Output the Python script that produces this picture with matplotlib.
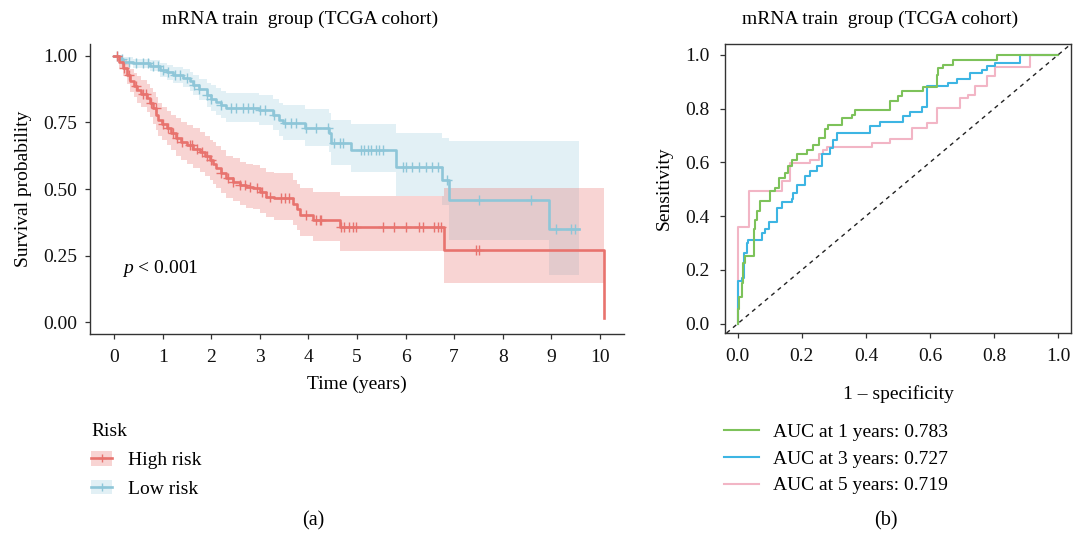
import numpy as np
import matplotlib
matplotlib.use("Agg")
import matplotlib.pyplot as plt
from matplotlib.lines import Line2D
from matplotlib.patches import Patch
from matplotlib.ticker import FormatStrFormatter

plt.rcParams['font.family'] = 'serif'
plt.rcParams['font.serif'] = ['Liberation Serif', 'DejaVu Serif']
plt.rcParams['mathtext.fontset'] = 'custom'
plt.rcParams['mathtext.rm'] = 'Liberation Serif'
plt.rcParams['mathtext.it'] = 'Liberation Serif:italic'

# KAPLAN-MEIER DATA -------------------

# high risk group: event times (years), survival and 95% CI
t_high = [0, 0.1, 0.19, 0.27, 0.32, 0.4, 0.46, 0.55, 0.67, 0.74, 0.8, 0.86, 0.9,
          0.98, 1.08, 1.17, 1.28, 1.38, 1.49, 1.62, 1.76, 1.86, 1.97, 2.04, 2.1,
          2.2, 2.31, 2.45, 2.58, 2.72, 2.86, 3.0, 3.13, 3.3, 3.68, 3.76, 3.82,
          4.09, 4.64, 6.79, 10.08]
s_high = [1.0, 0.978, 0.955, 0.93, 0.905, 0.888, 0.872, 0.858, 0.841, 0.822,
          0.803, 0.78, 0.76, 0.745, 0.728, 0.71, 0.691, 0.678, 0.665, 0.652,
          0.64, 0.625, 0.609, 0.595, 0.578, 0.56, 0.54, 0.528, 0.515, 0.508,
          0.503, 0.488, 0.471, 0.465, 0.445, 0.425, 0.402, 0.383, 0.358, 0.271,
          0.015]
hi_high = [1.0, 1.0, 0.99, 0.97, 0.95, 0.935, 0.925, 0.91, 0.895, 0.88, 0.865,
           0.845, 0.825, 0.81, 0.795, 0.78, 0.765, 0.75, 0.74, 0.73, 0.715,
           0.70, 0.685, 0.675, 0.66, 0.645, 0.625, 0.615, 0.60, 0.595, 0.59,
           0.58, 0.565, 0.56, 0.535, 0.52, 0.505, 0.49, 0.474, 0.505, 0.505]
lo_high = [1.0, 0.955, 0.925, 0.895, 0.865, 0.845, 0.825, 0.81, 0.79, 0.77,
           0.745, 0.72, 0.70, 0.685, 0.665, 0.645, 0.625, 0.61, 0.595, 0.58,
           0.565, 0.55, 0.535, 0.52, 0.505, 0.485, 0.465, 0.455, 0.44, 0.43,
           0.425, 0.41, 0.395, 0.385, 0.365, 0.345, 0.325, 0.305, 0.268, 0.147,
           0.147]
cens_high = [0.05, 0.2, 0.3, 0.45, 0.6, 0.65, 0.75, 0.85, 1.0, 1.1, 1.2, 1.3,
             1.4, 1.55, 1.6, 1.7, 1.8, 1.9, 2.0, 2.2, 2.35, 2.45, 2.6, 2.7, 2.8,
             2.95, 3.05, 3.2, 3.44, 3.52, 3.6, 3.95, 4.16, 4.23, 4.26, 4.67, 4.74,
             4.84, 4.91, 4.98, 5.53, 5.77, 6.01, 6.28, 6.35, 6.59, 6.66, 6.73,
             7.45, 7.51]

# low risk group
t_low = [0, 0.12, 0.19, 0.39, 0.73, 0.94, 1.08, 1.21, 1.42, 1.55, 1.62, 1.75,
         1.9, 2.0, 2.1, 2.2, 2.31, 2.99, 3.27, 3.4, 3.48, 3.92, 4.43, 4.47, 4.88,
         5.8, 6.76, 6.9, 8.95, 9.57]
s_low = [1.0, 0.988, 0.979, 0.972, 0.964, 0.947, 0.938, 0.929, 0.916, 0.905,
         0.891, 0.875, 0.853, 0.84, 0.828, 0.815, 0.803, 0.797, 0.778, 0.76,
         0.747, 0.728, 0.709, 0.672, 0.647, 0.584, 0.534, 0.458, 0.35, 0.35]
hi_low = [1.0, 1.0, 0.995, 0.99, 0.985, 0.975, 0.965, 0.96, 0.95, 0.94, 0.93,
          0.915, 0.90, 0.89, 0.88, 0.87, 0.86, 0.855, 0.84, 0.825, 0.815, 0.80,
          0.785, 0.76, 0.745, 0.71, 0.69, 0.68, 0.68, 0.68]
lo_low = [1.0, 0.975, 0.965, 0.955, 0.943, 0.92, 0.91, 0.90, 0.885, 0.87,
          0.855, 0.835, 0.81, 0.795, 0.78, 0.765, 0.75, 0.74, 0.72, 0.70,
          0.685, 0.66, 0.64, 0.59, 0.565, 0.475, 0.44, 0.31, 0.175, 0.175]
cens_low = [0.05, 0.15, 0.3, 0.45, 0.6, 0.7, 0.8, 0.9, 1.0, 1.1, 1.25, 1.35, 1.5,
            1.65, 1.75, 1.9, 2.0, 2.2, 2.4, 2.5, 2.65, 2.75, 2.85, 3.0, 3.1,
            3.3, 3.51, 3.64, 3.75, 3.95, 4.16, 4.4, 4.53, 4.64, 4.71, 5.08, 5.15,
            5.22, 5.29, 5.39, 5.46, 5.53, 5.94, 6.01, 6.14, 6.28, 6.42, 6.55,
            6.66, 6.86, 7.51, 8.58, 9.09, 9.4, 9.5]

# ROC DATA (corner points of each staircase) -------------------

fpr_1y = [0, 0, 0.005, 0.012, 0.017, 0.022, 0.044, 0.049, 0.054, 0.059, 0.07,
          0.10, 0.116, 0.127, 0.148, 0.158, 0.168, 0.184, 0.215, 0.236, 0.252,
          0.272, 0.283, 0.324, 0.355, 0.366, 0.465, 0.475, 0.50, 0.511, 0.569,
          0.579, 0.61, 0.621, 0.626, 0.641, 0.673, 0.802, 0.808, 1.0]
tpr_1y = [0, 0.053, 0.10, 0.152, 0.226, 0.25, 0.25, 0.35, 0.387, 0.418, 0.455,
          0.493, 0.505, 0.542, 0.561, 0.585, 0.61, 0.629, 0.647, 0.666, 0.69,
          0.722, 0.74, 0.765, 0.777, 0.796, 0.796, 0.827, 0.845, 0.864, 0.864,
          0.88, 0.88, 0.926, 0.95, 0.963, 0.979, 0.979, 1.0, 1.0]

fpr_3y = [0, 0, 0.012, 0.018, 0.028, 0.033, 0.064, 0.075, 0.085, 0.096, 0.116,
          0.122, 0.137, 0.168, 0.173, 0.184, 0.21, 0.226, 0.246, 0.262, 0.288,
          0.298, 0.309, 0.407, 0.413, 0.444, 0.506, 0.517, 0.537, 0.574, 0.589,
          0.647, 0.657, 0.683, 0.725, 0.761, 0.777, 0.802, 0.875, 0.88, 1.0]
tpr_3y = [0, 0.16, 0.17, 0.264, 0.30, 0.31, 0.31, 0.338, 0.35, 0.377, 0.377,
          0.43, 0.452, 0.462, 0.486, 0.517, 0.548, 0.567, 0.585, 0.629, 0.653,
          0.684, 0.709, 0.709, 0.734, 0.749, 0.749, 0.771, 0.786, 0.806, 0.882,
          0.882, 0.895, 0.91, 0.932, 0.944, 0.959, 0.969, 0.969, 1.0, 1.0]

fpr_5y = [0, 0, 0.033, 0.036, 0.132, 0.137, 0.163, 0.163, 0.21, 0.226, 0.252,
          0.267, 0.278, 0.413, 0.418, 0.475, 0.543, 0.543, 0.579, 0.589, 0.616,
          0.621, 0.683, 0.693, 0.719, 0.74, 0.777, 0.802, 0.891, 0.912, 1.0]
tpr_5y = [0, 0.36, 0.36, 0.495, 0.495, 0.53, 0.53, 0.598, 0.598, 0.61, 0.629,
          0.647, 0.657, 0.657, 0.672, 0.687, 0.687, 0.728, 0.728, 0.746, 0.746,
          0.802, 0.802, 0.839, 0.851, 0.882, 0.92, 0.954, 0.954, 1.0, 1.0]

auc_labels = ["AUC at 1 years: 0.783", "AUC at 3 years: 0.727",
              "AUC at 5 years: 0.719"]

# STYLE -------------------

RED = "#E8736E"
BLUE = "#8EC6D8"
GREEN = "#7DC25A"
SKY = "#3DB5E3"
PINK = "#F2B5C5"
SPINE = "#333333"
FS = 14
W, H = 1075, 541


def style_axis(ax, box=False, ypad=5.5):
    for side in ("top", "right"):
        ax.spines[side].set_visible(box)
    for sp in ax.spines.values():
        sp.set_color(SPINE)
        sp.set_linewidth(1.0)
    ax.tick_params(direction="out", length=3.5, width=0.9, color=SPINE,
                   labelsize=FS, labelcolor="#111111")
    ax.tick_params(axis="x", pad=7.5)
    ax.tick_params(axis="y", pad=ypad)


def step_value(ts, ss, x):
    idx = np.searchsorted(ts, x, side="right") - 1
    return np.asarray(ss)[idx]


fig = plt.figure(figsize=(W / 100, H / 100), dpi=100)

# ---- (a) Kaplan-Meier curves ----
ax1 = fig.add_axes([90 / W, 1 - 334 / H, 534 / W, 290 / H])
style_axis(ax1)

groups = [
    (t_low, s_low, lo_low, hi_low, cens_low, BLUE, 0.25),
    (t_high, s_high, lo_high, hi_high, cens_high, RED, 0.3),
]
for t, s, lo, hi, cens, col, a in groups:
    ax1.fill_between(t, lo, hi, step="post", color=col, alpha=a, lw=0)
for t, s, lo, hi, cens, col, a in groups:
    ax1.step(t, s, where="post", color=col, lw=1.9)
    ax1.plot(cens, step_value(t, s, cens), ls="none", marker="+",
             ms=7, mew=1.0, color=col)

ax1.set_xlim(-0.5, 10.5)
ax1.set_ylim(-0.045, 1.045)
ax1.set_xticks(range(0, 11))
ax1.set_yticks([0, 0.25, 0.5, 0.75, 1.0])
ax1.set_yticklabels(["0.00", "0.25", "0.50", "0.75", "1.00"])
ax1.set_xlabel("Time (years)", fontsize=FS, labelpad=7)
ax1.set_ylabel("Survival probability", fontsize=FS, labelpad=8)
ax1.text(0.16, 0.2, "$p$ < 0.001", fontsize=FS, va="center", ha="left")

km_handles = [
    (Patch(color=RED, alpha=0.3, lw=0),
     Line2D([], [], color=RED, lw=1.9, marker="+", ms=6)),
    (Patch(color=BLUE, alpha=0.25, lw=0),
     Line2D([], [], color=BLUE, lw=1.9, marker="+", ms=6)),
]
fig.legend(km_handles, ["High risk", "Low risk"], title="Risk",
           loc="upper left", bbox_to_anchor=(91 / W, 1 - 423 / H),
           frameon=False, fontsize=FS, title_fontsize=FS,
           borderpad=0, borderaxespad=0,
           handlelength=1.1, handleheight=0.8, handletextpad=0.8,
           labelspacing=0.55, alignment="left")

# ---- (b) time-dependent ROC ----
ax2 = fig.add_axes([725 / W, 1 - 333 / H, 346 / W, 289 / H])
style_axis(ax2, box=True, ypad=7.5)

roc = [(fpr_1y, tpr_1y, GREEN), (fpr_3y, tpr_3y, SKY), (fpr_5y, tpr_5y, PINK)]
for (fpr, tpr, col), lab in list(zip(roc, auc_labels))[::-1]:
    ax2.plot(fpr, tpr, color=col, lw=1.5, drawstyle="steps-post", label=lab)
ax2.axline((0, 0), (1, 1), color="#222222", lw=1.0, ls=(0, (3, 3)))

ax2.set_xlim(-0.04, 1.04)
ax2.set_ylim(-0.035, 1.04)
ax2.set_xticks(np.arange(0, 1.01, 0.2))
ax2.set_yticks(np.arange(0, 1.01, 0.2))
ax2.xaxis.set_major_formatter(FormatStrFormatter("%.1f"))
ax2.yaxis.set_major_formatter(FormatStrFormatter("%.1f"))
ax2.set_xlabel("1 – specificity", fontsize=FS, labelpad=14)
ax2.set_ylabel("Sensitivity", fontsize=FS, labelpad=9)

h, l = ax2.get_legend_handles_labels()
fig.legend(h[::-1], l[::-1], loc="upper left",
           bbox_to_anchor=(724 / W, 1 - 423 / H), frameon=False,
           fontsize=FS, borderpad=0, borderaxespad=0,
           handlelength=1.8, handletextpad=0.7, labelspacing=0.48)

# titles and panel captions
for xc in (300, 880):
    fig.text(xc / W, 1 - 19 / H, "mRNA train  group (TCGA cohort)",
             ha="center", va="center", fontsize=FS)
fig.text(313 / W, 1 - 521 / H, "(a)", ha="center", va="center", fontsize=FS + 0.5)
fig.text(886 / W, 1 - 521 / H, "(b)", ha="center", va="center", fontsize=FS + 0.5)

fig.savefig("out.png", dpi=100)
